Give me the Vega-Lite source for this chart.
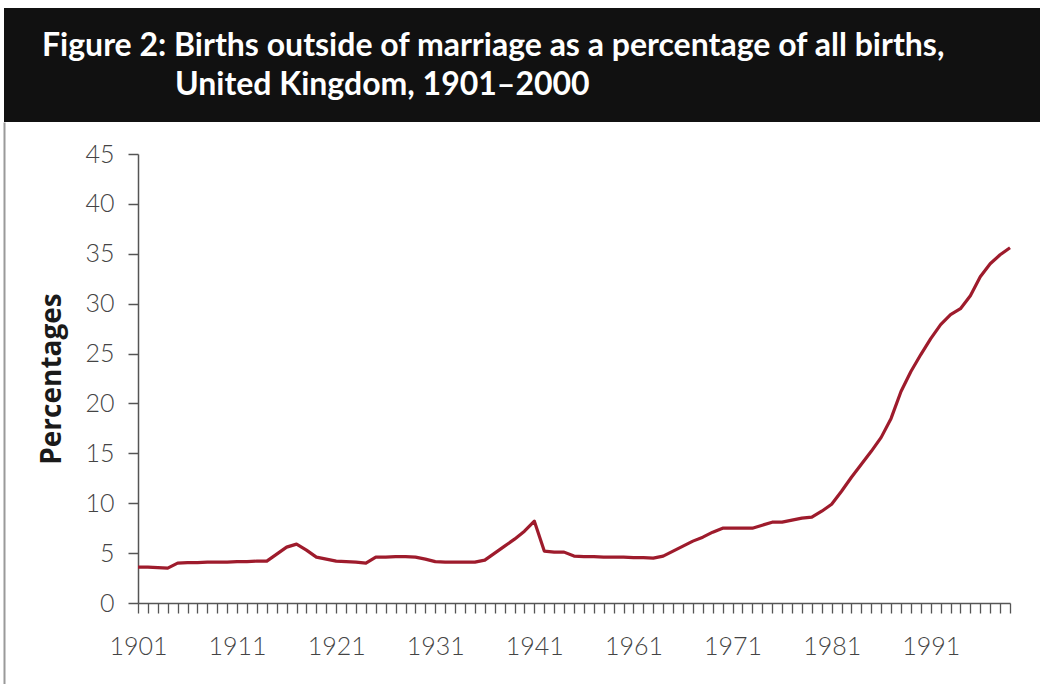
{
  "$schema": "https://vega.github.io/schema/vega-lite/v6.json",
  "padding": {"left": 4, "top": 8, "right": 0, "bottom": 0},
  "background": "white",
  "spacing": 0,
  "config": {"font": "Lato"},
  "datasets": {
    "births": [
      {"year": "1901", "pct": 3.6}, {"year": "1902", "pct": 3.6}, {"year": "1903", "pct": 3.55}, {"year": "1904", "pct": 3.5},
      {"year": "1905", "pct": 4.0}, {"year": "1906", "pct": 4.05}, {"year": "1907", "pct": 4.05}, {"year": "1908", "pct": 4.1},
      {"year": "1909", "pct": 4.1}, {"year": "1910", "pct": 4.1}, {"year": "1911", "pct": 4.15}, {"year": "1912", "pct": 4.15},
      {"year": "1913", "pct": 4.2}, {"year": "1914", "pct": 4.2}, {"year": "1915", "pct": 4.9}, {"year": "1916", "pct": 5.6},
      {"year": "1917", "pct": 5.9}, {"year": "1918", "pct": 5.3}, {"year": "1919", "pct": 4.6}, {"year": "1920", "pct": 4.4},
      {"year": "1921", "pct": 4.2}, {"year": "1922", "pct": 4.15}, {"year": "1923", "pct": 4.1}, {"year": "1924", "pct": 4.0},
      {"year": "1925", "pct": 4.6}, {"year": "1926", "pct": 4.6}, {"year": "1927", "pct": 4.65}, {"year": "1928", "pct": 4.65},
      {"year": "1929", "pct": 4.6}, {"year": "1930", "pct": 4.4}, {"year": "1931", "pct": 4.15}, {"year": "1932", "pct": 4.1},
      {"year": "1933", "pct": 4.1}, {"year": "1934", "pct": 4.1}, {"year": "1935", "pct": 4.1}, {"year": "1936", "pct": 4.3},
      {"year": "1937", "pct": 5.0}, {"year": "1938", "pct": 5.7}, {"year": "1939", "pct": 6.4}, {"year": "1940", "pct": 7.2},
      {"year": "1941", "pct": 8.2}, {"year": "1942", "pct": 5.2}, {"year": "1943", "pct": 5.1}, {"year": "1944", "pct": 5.1},
      {"year": "1945", "pct": 4.7}, {"year": "1946", "pct": 4.65}, {"year": "1947", "pct": 4.65}, {"year": "1948", "pct": 4.6},
      {"year": "1949", "pct": 4.6}, {"year": "1950", "pct": 4.6}, {"year": "1961", "pct": 4.55}, {"year": "1962", "pct": 4.55},
      {"year": "1963", "pct": 4.5}, {"year": "1964", "pct": 4.7}, {"year": "1965", "pct": 5.2}, {"year": "1966", "pct": 5.7},
      {"year": "1967", "pct": 6.2}, {"year": "1968", "pct": 6.6}, {"year": "1969", "pct": 7.1}, {"year": "1970", "pct": 7.5},
      {"year": "1971", "pct": 7.5}, {"year": "1972", "pct": 7.5}, {"year": "1973", "pct": 7.5}, {"year": "1974", "pct": 7.8},
      {"year": "1975", "pct": 8.1}, {"year": "1976", "pct": 8.1}, {"year": "1977", "pct": 8.3}, {"year": "1978", "pct": 8.5},
      {"year": "1979", "pct": 8.6}, {"year": "1980", "pct": 9.2}, {"year": "1981", "pct": 9.9}, {"year": "1982", "pct": 11.2},
      {"year": "1983", "pct": 12.6}, {"year": "1984", "pct": 13.9}, {"year": "1985", "pct": 15.2}, {"year": "1986", "pct": 16.6},
      {"year": "1987", "pct": 18.5}, {"year": "1988", "pct": 21.2}, {"year": "1989", "pct": 23.2}, {"year": "1990", "pct": 24.9},
      {"year": "1991", "pct": 26.5}, {"year": "1992", "pct": 27.9}, {"year": "1993", "pct": 28.9}, {"year": "1994", "pct": 29.5},
      {"year": "1995", "pct": 30.8}, {"year": "1996", "pct": 32.7}, {"year": "1997", "pct": 34.0}, {"year": "1998", "pct": 34.9},
      {"year": "1999", "pct": 35.6}
    ]
  },
  "vconcat": [
    {
      "spacing": 0,
      "vconcat": [
        {
          "width": 1036,
          "height": 57,
          "view": {"fill": "#111111", "stroke": null},
          "title": {
            "text": "Figure 2: Births outside of marriage as a percentage of all births,",
            "anchor": "start",
            "frame": "group",
            "orient": "top",
            "offset": -55,
            "dx": 38,
            "font": "Lato",
            "fontSize": 32,
            "fontWeight": "bold",
            "color": "#ffffff"
          },
          "data": {"values": [{"a": 1}]},
          "mark": {"type": "text", "text": ""}
        },
        {
          "width": 1036,
          "height": 57,
          "view": {"fill": "#111111", "stroke": null},
          "title": {
            "text": "United Kingdom, 1901\u20132000",
            "anchor": "start",
            "frame": "group",
            "orient": "top",
            "offset": -37,
            "dx": 171,
            "font": "Lato",
            "fontSize": 32,
            "fontWeight": "bold",
            "color": "#ffffff"
          },
          "data": {"values": [{"a": 1}]},
          "mark": {"type": "text", "text": ""}
        }
      ]
    },
    {
      "width": 1036,
      "height": 562,
      "view": {"stroke": null},
      "data": {"name": "births"},
      "resolve": {"scale": {"y": "independent"}, "axis": {"y": "independent"}},
      "layer": [
        {
          "mark": {"type": "line", "color": "#9e1b2c", "strokeWidth": 3.2, "strokeJoin": "round"},
          "encoding": {
            "x": {
              "field": "year",
              "type": "ordinal",
              "scale": {"type": "point", "padding": 0, "range": [134, 1006]},
              "axis": {
                "title": null,
                "offset": -81,
                "labelAngle": 0,
                "labelExpr": "substring(datum.value, 3, 4) == '1' ? datum.value : ''",
                "labelOverlap": false,
                "labelFlush": false,
                "labelFont": "Lato",
                "labelFontWeight": 300,
                "labelFontSize": 25,
                "labelColor": "#444444",
                "labelPadding": 21,
                "tickSize": 10,
                "tickColor": "#555555",
                "tickWidth": 1.3,
                "domainColor": "#555555",
                "domainWidth": 1.5,
                "grid": false
              }
            },
            "y": {
              "field": "pct",
              "type": "quantitative",
              "scale": {"domain": [0, 45], "range": [481, 32]},
              "axis": {
                "offset": -134,
                "values": [0, 5, 10, 15, 20, 25, 30, 35, 40, 45],
                "title": "Percentages",
                "titleFont": "Open Sans",
                "titleFontSize": 28,
                "titleFontWeight": "bold",
                "titleColor": "#1a1a1a",
                "titlePadding": 18,
                "labelFont": "Lato",
                "labelFontWeight": 300,
                "labelFontSize": 25,
                "labelColor": "#444444",
                "labelPadding": 14,
                "tickSize": 10,
                "tickColor": "#555555",
                "tickWidth": 1.5,
                "domainColor": "#555555",
                "domainWidth": 1.5,
                "grid": false
              }
            }
          }
        },
        {
          "mark": {"type": "line", "strokeOpacity": 0},
          "encoding": {
            "x": {"field": "year", "type": "ordinal"},
            "y": {
              "field": "pct",
              "type": "quantitative",
              "scale": {"domain": [0, 45]},
              "axis": {
                "orient": "left",
                "offset": 0,
                "ticks": false,
                "labels": false,
                "title": null,
                "grid": false,
                "domainColor": "#9a9a9a",
                "domainWidth": 2
              }
            }
          }
        }
      ]
    }
  ]
}
